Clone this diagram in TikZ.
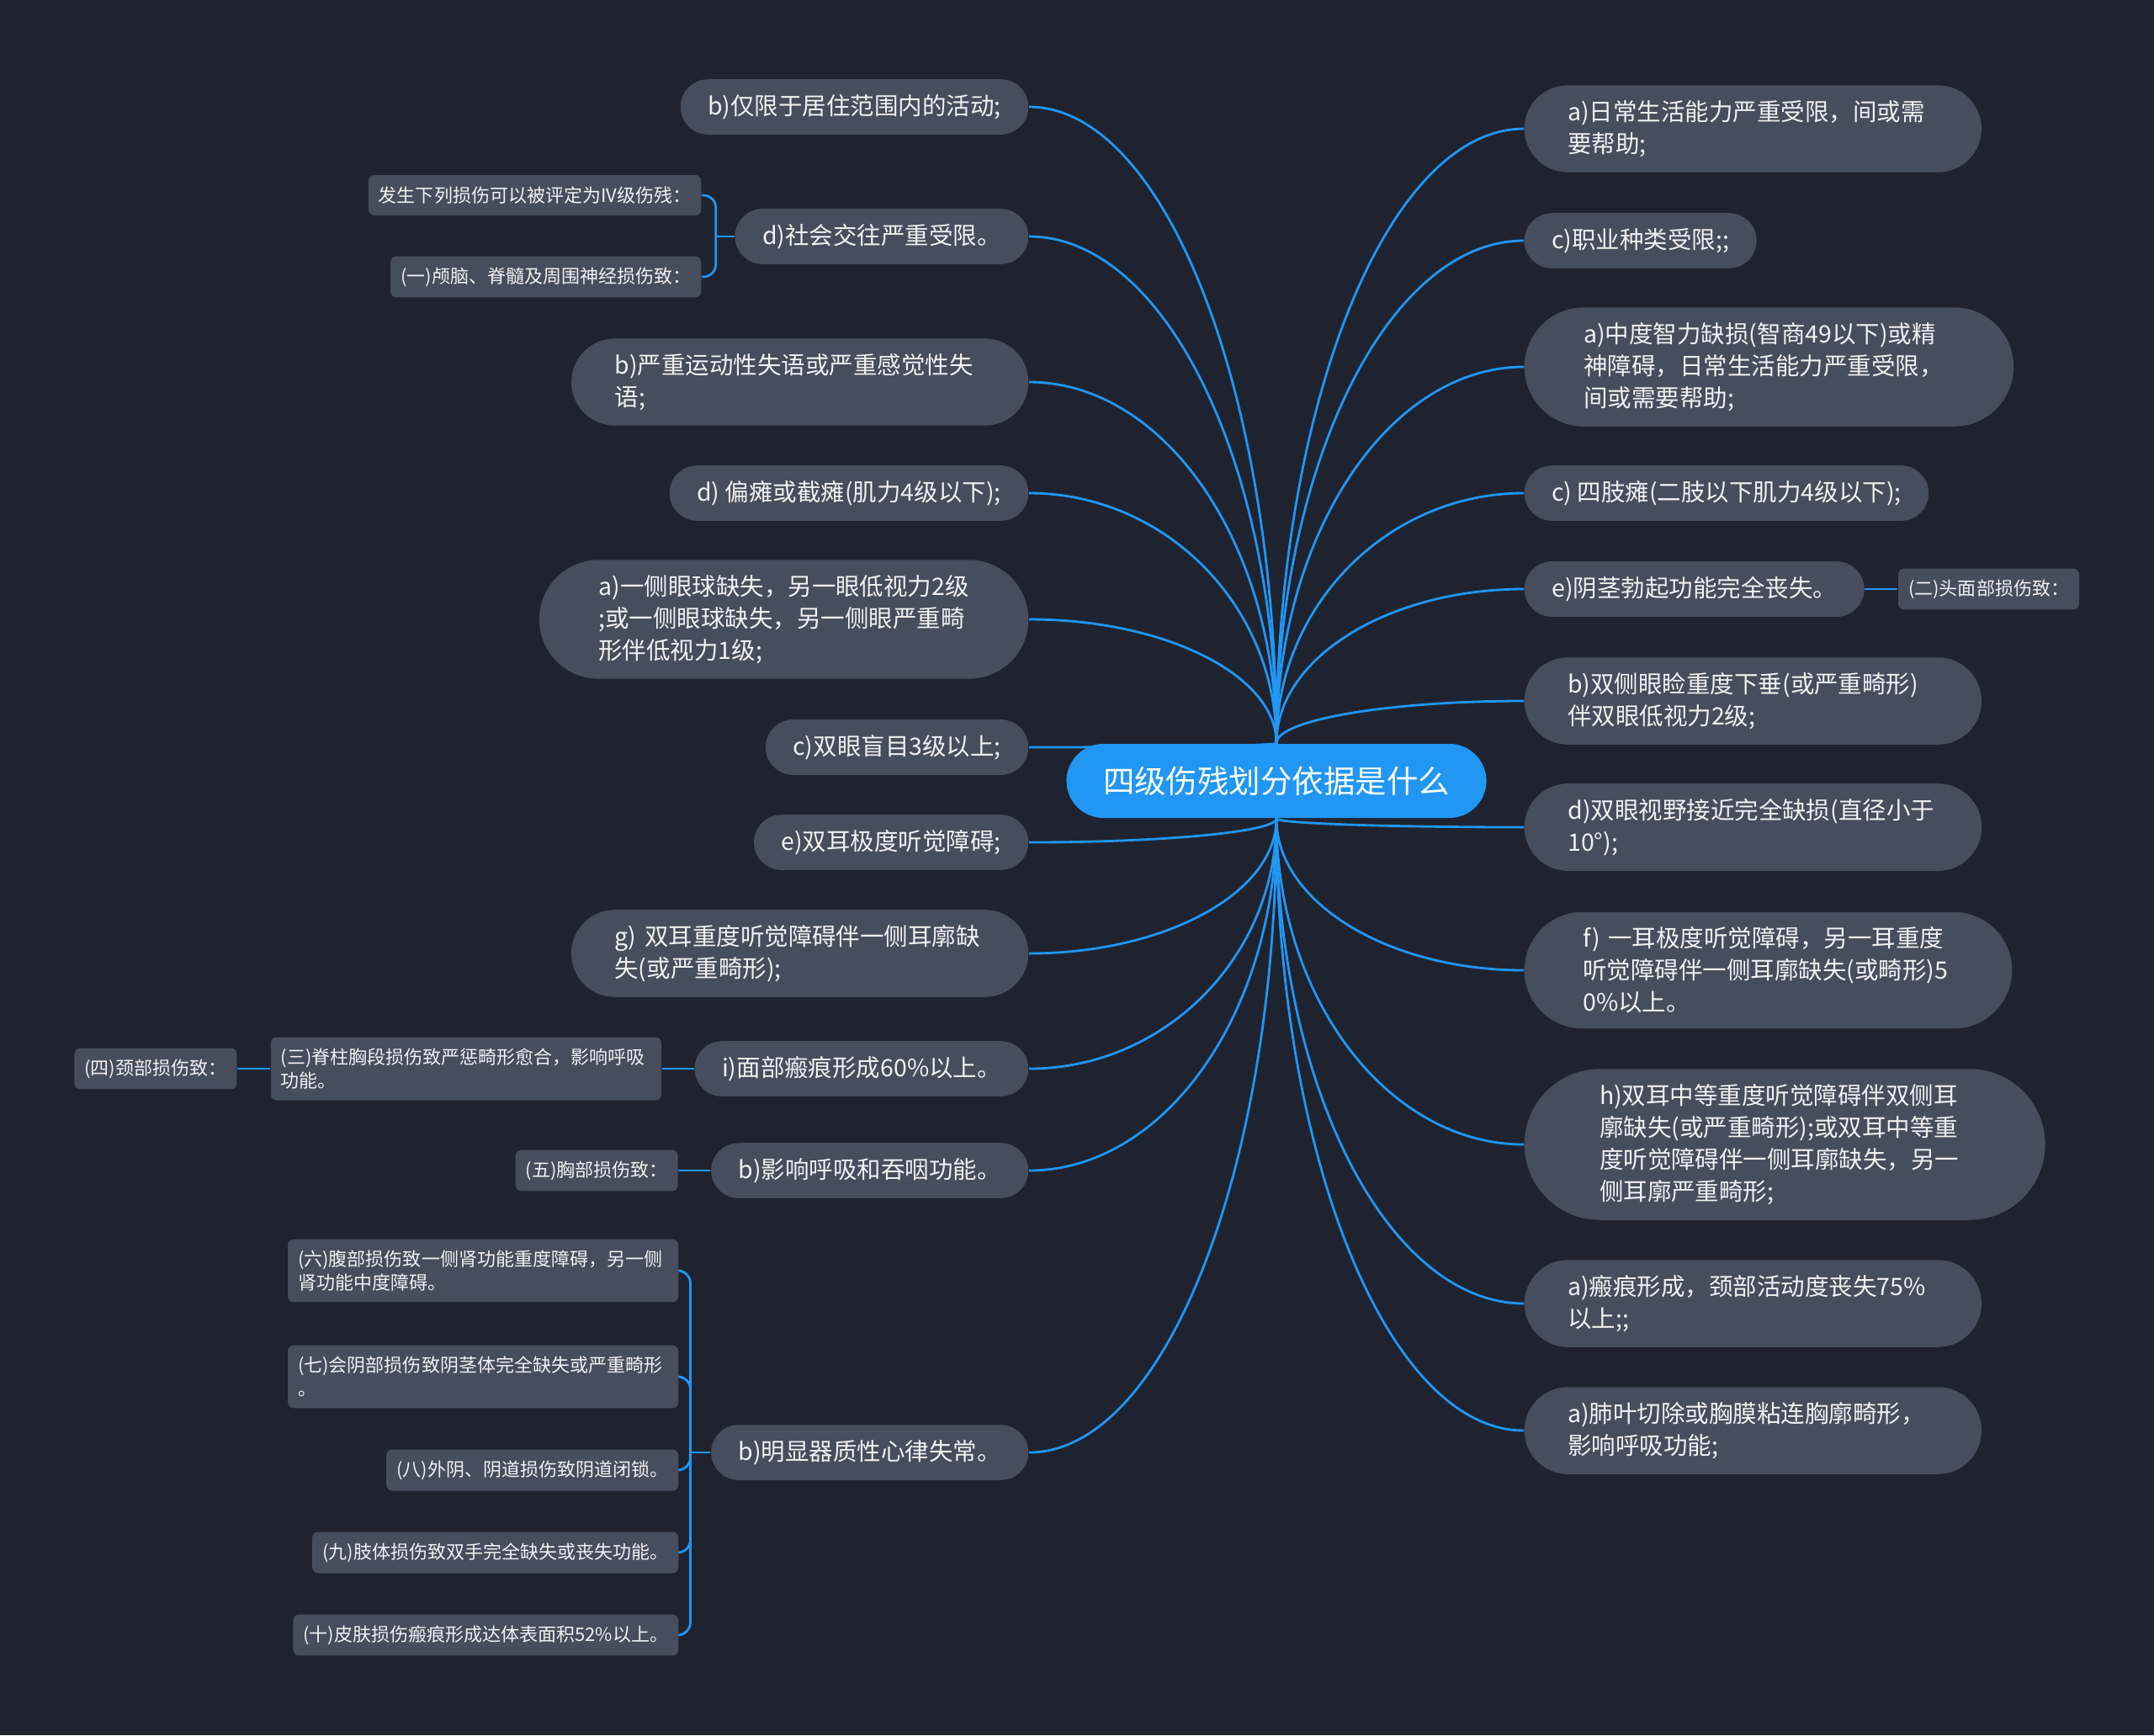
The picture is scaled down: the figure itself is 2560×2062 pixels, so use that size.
\documentclass[tikz,border=0pt]{standalone}
\usepackage{fontspec}
\newfontfamily\cjk{Noto Sans CJK SC}
\usepackage{tikz}
\usetikzlibrary{positioning,shapes.misc,calc}
\definecolor{canvasbg}{RGB}{31,35,48}
\definecolor{boxfill}{RGB}{70,77,92}
\definecolor{wireblue}{RGB}{33,150,243}
\definecolor{inktext}{RGB}{240,241,243}
\pgfdeclarelayer{canvas}
\pgfdeclarelayer{wires}
\pgfsetlayers{canvas,wires,main}
\tikzstyle{hub} = [rounded rectangle, fill=wireblue, text=white, font=\cjk\fontsize{10.65}{13}\selectfont, inner xsep=0.40cm, minimum height=0.88cm]
\tikzstyle{topic} = [rounded rectangle, fill=boxfill, text=inktext, font=\cjk\fontsize{8.1}{10.8}\selectfont, align=left, inner xsep=0.29cm, inner ysep=0.18cm, minimum height=0.65cm]
\tikzstyle{rows2} = [text width=4.4cm, inner xsep=0.39cm]
\tikzstyle{rows3} = [text width=4.4cm, inner xsep=0.47cm]
\tikzstyle{rows4} = [text width=4.4cm, inner xsep=0.535cm]
\tikzstyle{leaf} = [rectangle, rounded corners=0.07cm, fill=boxfill, text=inktext, font=\cjk\fontsize{6.26}{8.1}\selectfont, align=left, inner xsep=0.12cm, inner ysep=0.13cm, minimum height=0.48cm]
\tikzstyle{wrapbox} = [text width=4.4cm]
\tikzstyle{link} = [draw=wireblue, line width=0.8pt]
\tikzstyle{spoke} = [to path={.. controls ($(\tikztostart)!0.55!(\tikztostart |- \tikztotarget)$) and ($(\tikztotarget)!0.55!(\tikztotarget -| \tikztostart)$) .. (\tikztotarget)}]
\tikzstyle{brace} = [rounded corners=0.15cm]

\begin{document}
\begin{tikzpicture}[x=0.01cm, y=0.01cm]
	\useasboundingbox (0,0) rectangle (2560,-2062);
	\begin{pgfonlayer}{canvas}
		\fill[canvasbg] (0,0) rectangle (2560,-2062);
	\end{pgfonlayer}
	\node[hub] (m) at (1517,-928) {四级伤残划分依据是什么};

	\node[topic, anchor=east] (l1) at (1223,-127) {b)仅限于居住范围内的活动;};
	\node[topic, anchor=east] (l2) at (1223,-281) {d)社会交往严重受限。};
	\node[topic, rows2, anchor=east] (l3) at (1223,-454) {b)严重运动性失语或严重感觉性失\\语;};
	\node[topic, anchor=east] (l4) at (1223,-586) {d) 偏瘫或截瘫(肌力4级以下);};
	\node[topic, rows3, anchor=east] (l5) at (1223,-736) {a)一侧眼球缺失，另一眼低视力2级\\;或一侧眼球缺失，另一侧眼严重畸\\形伴低视力1级;};
	\node[topic, anchor=east] (l6) at (1223,-888) {c)双眼盲目3级以上;};
	\node[topic, anchor=east] (l7) at (1223,-1001) {e)双耳极度听觉障碍;};
	\node[topic, rows2, anchor=east] (l8) at (1223,-1133) {g) 双耳重度听觉障碍伴一侧耳廓缺\\失(或严重畸形);};
	\node[topic, anchor=east] (l9) at (1223,-1270) {i)面部瘢痕形成60\%以上。};
	\node[topic, anchor=east] (l10) at (1223,-1391) {b)影响呼吸和吞咽功能。};
	\node[topic, anchor=east] (l11) at (1223,-1726) {b)明显器质性心律失常。};

	\node[topic, rows2, anchor=west] (r1) at (1811,-153) {a)日常生活能力严重受限，间或需\\要帮助;};
	\node[topic, anchor=west] (r2) at (1811,-286) {c)职业种类受限;;};
	\node[topic, rows3, anchor=west] (r3) at (1811,-436) {a)中度智力缺损(智商49以下)或精\\神障碍，日常生活能力严重受限，\\间或需要帮助;};
	\node[topic, anchor=west] (r4) at (1811,-586) {c) 四肢瘫(二肢以下肌力4级以下);};
	\node[topic, anchor=west] (r5) at (1811,-700) {e)阴茎勃起功能完全丧失。};
	\node[topic, rows2, anchor=west] (r6) at (1811,-833) {b)双侧眼睑重度下垂(或严重畸形)\\伴双眼低视力2级;};
	\node[topic, rows2, anchor=west] (r7) at (1811,-983) {d)双眼视野接近完全缺损(直径小于\\10°);};
	\node[topic, rows3, anchor=west] (r8) at (1811,-1153) {f) 一耳极度听觉障碍，另一耳重度\\听觉障碍伴一侧耳廓缺失(或畸形)5\\0\%以上。};
	\node[topic, rows4, anchor=west] (r9) at (1811,-1360) {h)双耳中等重度听觉障碍伴双侧耳\\廓缺失(或严重畸形);或双耳中等重\\度听觉障碍伴一侧耳廓缺失，另一\\侧耳廓严重畸形;};
	\node[topic, rows2, anchor=west] (r10) at (1811,-1549) {a)瘢痕形成，颈部活动度丧失75\%\\以上;;};
	\node[topic, rows2, anchor=west] (r11) at (1811,-1700) {a)肺叶切除或胸膜粘连胸廓畸形，\\影响呼吸功能;};

	\node[leaf, anchor=east] (s1) at (834,-232) {发生下列损伤可以被评定为IV级伤残：};
	\node[leaf, anchor=east] (s2) at (834,-329) {(一)颅脑、脊髓及周围神经损伤致：};
	\node[leaf, wrapbox, left=0.38cm of l9] (s3) {(三)脊柱胸段损伤致严惩畸形愈合，影响呼吸\\功能。};
	\node[leaf, left=0.39cm of s3] (s4) {(四)颈部损伤致：};
	\node[leaf, left=0.38cm of l10] (s5) {(五)胸部损伤致：};
	\node[leaf, wrapbox, anchor=east] (s6) at (807,-1510) {(六)腹部损伤致一侧肾功能重度障碍，另一侧\\肾功能中度障碍。};
	\node[leaf, wrapbox, anchor=east] (s7) at (807,-1636) {(七)会阴部损伤致阴茎体完全缺失或严重畸形\\。};
	\node[leaf, anchor=east] (s8) at (807,-1747) {(八)外阴、阴道损伤致阴道闭锁。};
	\node[leaf, anchor=east] (s9) at (807,-1845) {(九)肢体损伤致双手完全缺失或丧失功能。};
	\node[leaf, anchor=east] (s10) at (807,-1943) {(十)皮肤损伤瘢痕形成达体表面积52\%以上。};
	\node[leaf, right=0.39cm of r5] (s11) {(二)头面部损伤致：};

	\begin{pgfonlayer}{wires}
		\draw[link] (m.north) to[spoke] (l1.east);
		\draw[link] (m.north) to[spoke] (l2.east);
		\draw[link] (m.north) to[spoke] (l3.east);
		\draw[link] (m.north) to[spoke] (l4.east);
		\draw[link] (m.north) to[spoke] (l5.east);
		\draw[link] (m.north) to[spoke] (l6.east);
		\draw[link] (m.south) to[spoke] (l7.east);
		\draw[link] (m.south) to[spoke] (l8.east);
		\draw[link] (m.south) to[spoke] (l9.east);
		\draw[link] (m.south) to[spoke] (l10.east);
		\draw[link] (m.south) to[spoke] (l11.east);
		\draw[link] (m.north) to[spoke] (r1.west);
		\draw[link] (m.north) to[spoke] (r2.west);
		\draw[link] (m.north) to[spoke] (r3.west);
		\draw[link] (m.north) to[spoke] (r4.west);
		\draw[link] (m.north) to[spoke] (r5.west);
		\draw[link] (m.north) to[spoke] (r6.west);
		\draw[link] (m.south) to[spoke] (r7.west);
		\draw[link] (m.south) to[spoke] (r8.west);
		\draw[link] (m.south) to[spoke] (r9.west);
		\draw[link] (m.south) to[spoke] (r10.west);
		\draw[link] (m.south) to[spoke] (r11.west);
		\draw[link] (l2.west) -- ++(-22,0) coordinate (j2);
		\draw[link, brace] (j2) |- (s1.east);
		\draw[link, brace] (j2) |- (s2.east);
		\draw[link] (l9.west) -- (s3.east);
		\draw[link] (s3.west) -- (s4.east);
		\draw[link] (l10.west) -- (s5.east);
		\draw[link] (r5.east) -- (s11.west);
		\draw[link] (l11.west) -- ++(-24,0) coordinate (j11);
		\draw[link, brace] (j11) |- (s6.east);
		\draw[link, brace] (j11) |- (s7.east);
		\draw[link, brace] (j11) |- (s8.east);
		\draw[link, brace] (j11) |- (s9.east);
		\draw[link, brace] (j11) |- (s10.east);
	\end{pgfonlayer}
\end{tikzpicture}
\end{document}
